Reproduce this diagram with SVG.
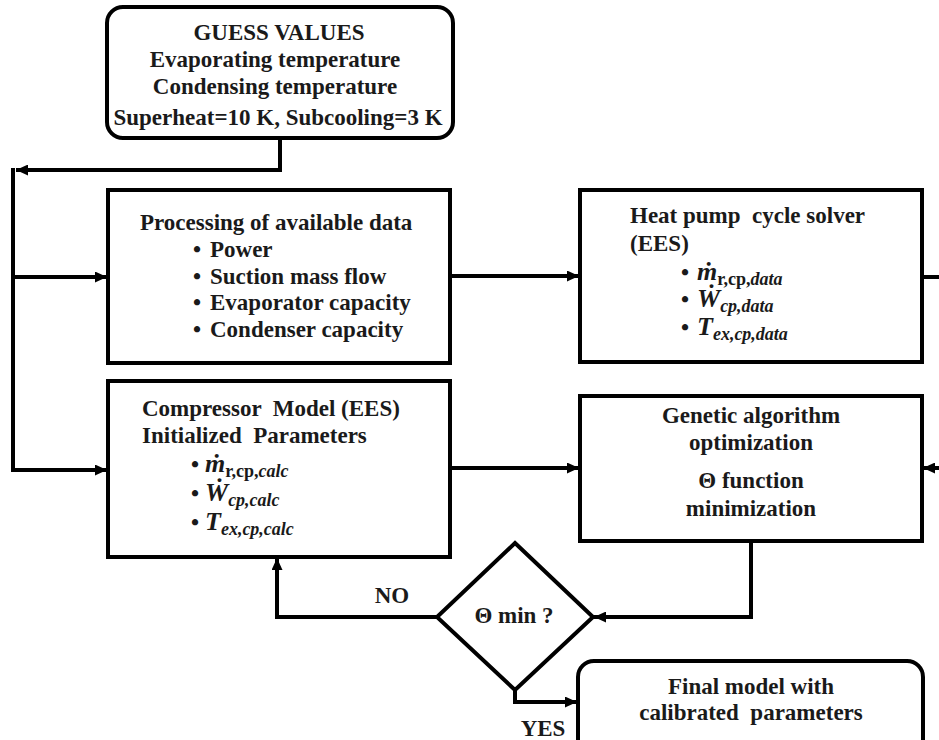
<svg xmlns="http://www.w3.org/2000/svg" width="939" height="740" viewBox="0 0 939 740">
<style>
.box{fill:#fff;stroke:#000;stroke-width:4}
.con{fill:none;stroke:#000;stroke-width:4}
text{font-family:"Liberation Serif","Times New Roman",serif;font-weight:bold;font-size:23px;fill:#1a1a1a}
.c{text-anchor:middle}
.mi{font-style:italic;font-size:26px}
.sub{font-size:18px}
.subi{font-size:18px;font-style:italic}
</style>
<defs>
<marker id="ah" markerUnits="userSpaceOnUse" markerWidth="12" markerHeight="11" refX="12" refY="5.5" orient="auto">
<path d="M0,0 L12,5.5 L0,11 z" fill="#000"/>
</marker>
</defs>
<g id="connectors">
<path class="con" d="M280,139 V170 H16" marker-end="url(#ah)"/>
<path class="con" d="M13,168 V472"/>
<path class="con" d="M13,277 H107" marker-end="url(#ah)"/>
<path class="con" d="M13,470 H107" marker-end="url(#ah)"/>
<path class="con" d="M452,276 H579" marker-end="url(#ah)"/>
<path class="con" d="M452,468 H579" marker-end="url(#ah)"/>
<path class="con" d="M922,277 H939"/>
<path class="con" d="M939,468 H923" marker-end="url(#ah)"/>
<path class="con" d="M751,541 V617 H594" marker-end="url(#ah)"/>
<path class="con" d="M437,617 H277 V558" marker-end="url(#ah)"/>
<path class="con" d="M515,688 V702 H577" marker-end="url(#ah)"/>
</g>
<g id="guess">
<rect class="box" x="107" y="7" width="346" height="131" rx="16"/>
<text class="c" x="279" y="40">GUESS VALUES</text>
<text class="c" x="275" y="67">Evaporating temperature</text>
<text class="c" x="275" y="94">Condensing temperature</text>
<text class="c" x="278" y="125">Superheat=10 K, Subcooling=3 K</text>
</g>
<g id="processing">
<rect class="box" x="108" y="190" width="342" height="173"/>
<text x="140" y="230">Processing of available data</text>
<text x="193" y="257">•</text><text x="210" y="257">Power</text>
<text x="193" y="284">•</text><text x="210" y="284">Suction mass flow</text>
<text x="193" y="310">•</text><text x="210" y="310">Evaporator capacity</text>
<text x="193" y="337">•</text><text x="210" y="337">Condenser capacity</text>
</g>
<g id="heatpump">
<rect class="box" x="580" y="190" width="342" height="172"/>
<text x="630" y="223" xml:space="preserve">Heat pump  cycle solver</text>
<text x="630" y="251">(EES)</text>
<text x="681" y="280">•</text>
<text x="697" y="280"><tspan class="mi">ṁ</tspan><tspan class="sub" dy="5">r,cp,</tspan><tspan class="subi">data</tspan></text>
<text x="681" y="307">•</text>
<text x="697" y="307"><tspan class="mi">Ẇ</tspan><tspan class="subi" dy="5">cp,data</tspan></text>
<text x="681" y="335">•</text>
<text x="697" y="335"><tspan class="mi">T</tspan><tspan class="subi" dy="5">ex,cp,data</tspan></text>
</g>
<g id="compressor">
<rect class="box" x="108" y="381" width="342" height="176"/>
<text x="142" y="416" xml:space="preserve">Compressor  Model (EES)</text>
<text x="142" y="443" xml:space="preserve">Initialized  Parameters</text>
<text x="191" y="472">•</text>
<text x="205" y="472"><tspan class="mi">ṁ</tspan><tspan class="sub" dy="5">r,cp,</tspan><tspan class="subi">calc</tspan></text>
<text x="191" y="501">•</text>
<text x="205" y="501"><tspan class="mi">Ẇ</tspan><tspan class="subi" dy="5">cp,calc</tspan></text>
<text x="191" y="530">•</text>
<text x="205" y="530"><tspan class="mi">T</tspan><tspan class="subi" dy="5">ex,cp,calc</tspan></text>
</g>
<g id="genetic">
<rect class="box" x="580" y="396" width="342" height="145"/>
<text class="c" x="751" y="423">Genetic algorithm</text>
<text class="c" x="751" y="450">optimization</text>
<text class="c" x="751" y="488">Θ function</text>
<text class="c" x="751" y="516">minimization</text>
</g>
<g id="decision">
<polygon class="box" points="515,543 593,617 515,690 437,617"/>
<text class="c" x="514" y="623">Θ min ?</text>
</g>
<g id="final">
<rect class="box" x="578" y="661" width="345" height="100" rx="16"/>
<text class="c" x="751" y="694">Final model with</text>
<text class="c" x="751" y="720" xml:space="preserve">calibrated  parameters</text>
</g>
<g id="labels">
<text class="c" x="392" y="603">NO</text>
<text class="c" x="543" y="736">YES</text>
</g>
</svg>
